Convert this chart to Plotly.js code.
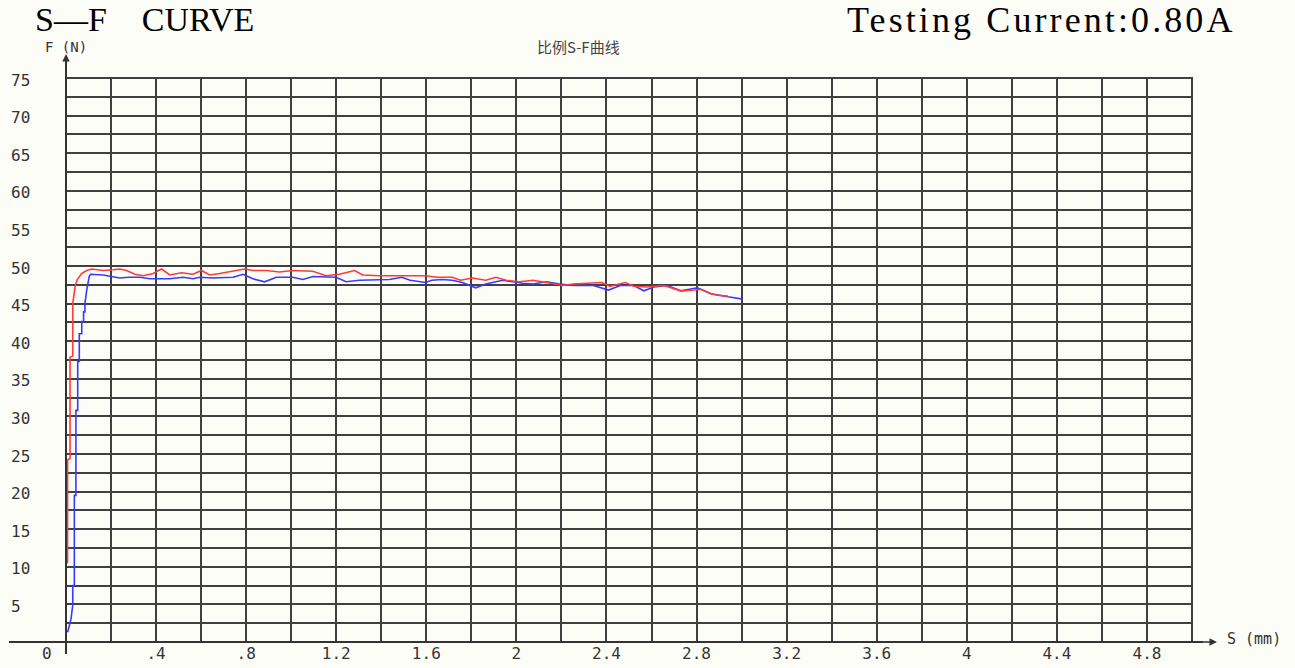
<!DOCTYPE html>
<html>
<head>
<meta charset="utf-8">
<script src="https://cdn.plot.ly/plotly-3.0.1.min.js"></script>
<style>
html,body{margin:0;padding:0;background:#fdfdf8;}
text.annotation-text[data-unformatted^="Testing"]{letter-spacing:3.1px;}
text.annotation-text[data-unformatted^="S—F"]{white-space:pre;word-spacing:9px;}
</style>
</head>
<body>
<div id="chart" style="width:1295px;height:668px;"></div>
<script>
// Red curve (S in mm, F in N)
const redS = [0.000,0.000,0.007,0.007,0.018,0.018,0.030,0.030,0.040,0.050,0.069,0.092,0.114,0.165,0.210,0.239,0.269,0.306,0.343,0.387,0.424,0.461,0.513,0.564,0.601,0.638,0.682,0.742,0.793,0.830,0.889,0.948,1.007,1.096,1.155,1.214,1.281,1.318,1.391,1.596,1.648,1.715,1.752,1.804,1.864,1.909,1.954,2.013,2.073,2.133,2.207,2.252,2.379,2.416,2.484,2.521,2.581,2.655,2.700,2.730,2.790,2.819,2.864,2.894,2.939];
const redF = [4.0,10.4,10.6,24.2,24.4,37.9,38.0,45.0,47.2,48.2,49.0,49.4,49.6,49.4,49.5,49.6,49.4,48.9,48.7,49.0,49.6,48.8,49.1,48.9,49.4,48.8,49.0,49.3,49.6,49.4,49.4,49.2,49.4,49.3,48.7,48.9,49.4,48.8,48.7,48.7,48.5,48.5,48.1,48.4,48.1,48.5,48.1,47.9,48.1,47.8,47.4,47.6,47.8,47.3,47.8,47.3,47.2,47.4,47.0,46.7,46.8,46.9,46.3,46.1,46.0];

// Blue curve
const blueS = [0.007,0.015,0.022,0.030,0.030,0.037,0.037,0.044,0.044,0.052,0.052,0.059,0.059,0.070,0.070,0.078,0.078,0.084,0.084,0.092,0.103,0.109,0.165,0.202,0.239,0.276,0.328,0.372,0.461,0.520,0.564,0.594,0.653,0.742,0.786,0.830,0.882,0.934,1.007,1.052,1.096,1.199,1.244,1.303,1.387,1.436,1.491,1.528,1.596,1.625,1.670,1.715,1.760,1.819,1.864,1.939,1.984,2.028,2.073,2.133,2.192,2.252,2.342,2.409,2.461,2.521,2.566,2.610,2.670,2.730,2.804,2.864,2.939,3.006];
const blueF = [1.3,2.4,3.0,4.9,7.5,7.5,19.5,19.5,30.8,30.8,37.3,37.3,41.0,41.0,42.6,42.6,43.9,43.9,45.0,46.8,48.6,48.9,48.8,48.6,48.4,48.5,48.5,48.3,48.3,48.5,48.3,48.5,48.4,48.5,48.9,48.3,47.9,48.5,48.5,48.2,48.6,48.5,47.9,48.1,48.1,48.2,48.5,48.1,47.8,48.1,48.2,48.1,47.8,47.1,47.6,48.1,47.9,47.7,47.6,47.9,47.6,47.4,47.4,46.8,47.4,47.4,46.7,47.2,47.4,46.7,47.1,46.3,45.9,45.6];

// Axis ticks / labels
const xTickVals = [0.4,0.8,1.2,1.6,2.0,2.4,2.8,3.2,3.6,4.0,4.4,4.8];
const xTickText = ['.4','.8','1.2','1.6','2','2.4','2.8','3.2','3.6','4','4.4','4.8'];
const xGridStep = 0.2;
const xMax = 5.0;
const yTickVals = [5,10,15,20,25,30,35,40,45,50,55,60,65,70,75];
const yTickText = ['5','10','15','20','25','30','35','40','45','50','55','60','65','70','75'];
const yGridStep = 2.5;
const yMax = 75;

const titleLeft = 'S—F  CURVE';
const titleRight = 'Testing Current:0.80A';
const subTitle = '比例S-F曲线';
const yName = 'F (N)';
const xName = 'S (mm)';

const gridColor = '#404040';
const L = 66, R = 1192, T = 78, B = 642;
const pw = R - L, ph = B - T;
const px = v => (v - L) / pw;
const py = v => (B - v) / ph;

// grid tick arrays
const xGrid = [], xGridText = [];
for (let k = 1; k * xGridStep < xMax - 1e-9; k++) {
  const v = +(k * xGridStep).toFixed(3);
  xGrid.push(v);
  const i = xTickVals.findIndex(t => Math.abs(t - v) < 1e-6);
  xGridText.push(i >= 0 ? xTickText[i] : '');
}
const yGrid = [];
for (let k = 1; k * yGridStep < yMax - 1e-9; k++) yGrid.push(k * yGridStep);

const tickFont = {family: 'DejaVu Sans Mono', size: 16, color: '#333'};

const traces = [
  {x: blueS, y: blueF, type: 'scatter', mode: 'lines', line: {color: '#3a3aff', width: 1.6}, hoverinfo: 'skip'},
  {x: redS, y: redF, type: 'scatter', mode: 'lines', line: {color: '#ff3a3a', width: 1.6}, hoverinfo: 'skip'}
];

const annotations = [];
yTickVals.forEach((v, i) => annotations.push({
  xref: 'paper', yref: 'y', x: px(9), y: v, xanchor: 'left', yanchor: 'middle', yshift: -2,
  text: yTickText[i], showarrow: false, font: tickFont
}));
annotations.push({xref: 'paper', yref: 'paper', x: px(47), y: py(653), xanchor: 'center', yanchor: 'middle', text: '0', showarrow: false, font: tickFont});
annotations.push({xref: 'paper', yref: 'paper', x: px(33), y: py(20), xanchor: 'left', yanchor: 'middle', text: titleLeft, showarrow: false, font: {family: 'Liberation Serif', size: 34, color: '#000'}});
annotations.push({xref: 'paper', yref: 'paper', x: px(1041), y: py(20), xanchor: 'center', yanchor: 'middle', text: titleRight, showarrow: false, font: {family: 'Liberation Serif', size: 36, color: '#000'}});
annotations.push({xref: 'paper', yref: 'paper', x: px(578), y: py(47), xanchor: 'center', yanchor: 'middle', text: subTitle, showarrow: false, font: {family: 'Noto Sans CJK SC', size: 15, color: '#444'}});
annotations.push({xref: 'paper', yref: 'paper', x: px(66), y: py(47), xanchor: 'center', yanchor: 'middle', text: yName, showarrow: false, font: {family: 'DejaVu Sans Mono', size: 14, color: '#333'}});
annotations.push({xref: 'paper', yref: 'paper', x: px(1225), y: py(639), xanchor: 'left', yanchor: 'middle', text: xName, showarrow: false, font: {family: 'DejaVu Sans Mono', size: 15, color: '#333'}});
// axis arrows
annotations.push({xref: 'paper', yref: 'paper', x: px(1217), y: 0, ax: -16, ay: 0, text: '', showarrow: true, arrowhead: 2, arrowsize: 1, arrowwidth: 1.5, arrowcolor: '#333'});
annotations.push({xref: 'paper', yref: 'paper', x: 0, y: py(54), ax: 0, ay: 14, text: '', showarrow: true, arrowhead: 2, arrowsize: 1, arrowwidth: 1.5, arrowcolor: '#333'});

const shapes = [
  {type: 'rect', xref: 'paper', yref: 'paper', x0: 0, x1: 1, y0: 0, y1: 1, line: {color: gridColor, width: 2}, layer: 'below'},
  {type: 'line', xref: 'paper', yref: 'paper', x0: px(9), x1: px(1203), y0: 0, y1: 0, line: {color: '#333', width: 2}},
  {type: 'line', xref: 'paper', yref: 'paper', x0: 0, x1: 0, y0: py(654), y1: py(60), line: {color: '#333', width: 2}}
];

const layout = {
  width: 1295, height: 668,
  margin: {l: L, r: 1295 - R, t: T, b: 668 - B},
  paper_bgcolor: '#fdfdf8', plot_bgcolor: '#fdfdf8',
  showlegend: false,
  xaxis: {range: [0, xMax], tickmode: 'array', tickvals: xGrid, ticktext: xGridText, showgrid: true, gridcolor: gridColor, gridwidth: 2,
          zeroline: false, showline: false, ticks: '', ticklabelstandoff: 0, tickfont: tickFont, fixedrange: true},
  yaxis: {range: [0, yMax], tickmode: 'array', tickvals: yGrid, showticklabels: false, showgrid: true, gridcolor: gridColor, gridwidth: 2,
          zeroline: false, showline: false, ticks: '', fixedrange: true},
  annotations: annotations,
  shapes: shapes
};

Plotly.newPlot('chart', traces, layout, {displayModeBar: false, staticPlot: true});
</script>
</body>
</html>
